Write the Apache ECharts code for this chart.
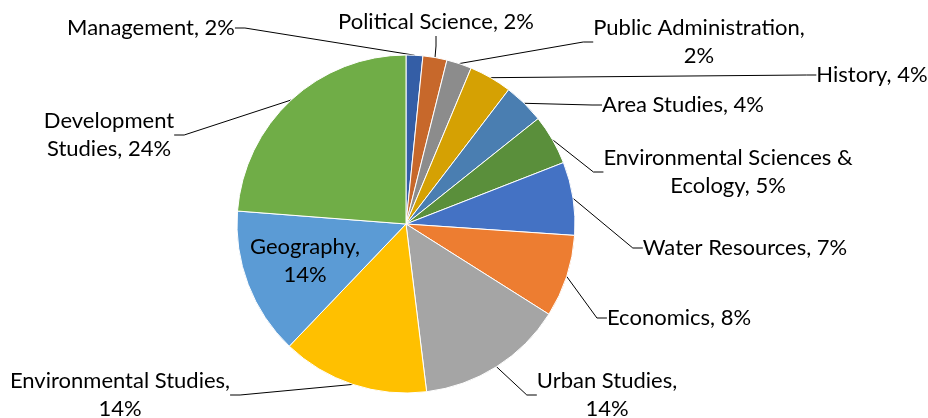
<!DOCTYPE html>
<html>
<head>
<meta charset="utf-8">
<script src="https://cdn.jsdelivr.net/npm/echarts@6/dist/echarts.min.js"></script>
<style>
html,body{margin:0;padding:0;background:#fff;}
#chart{width:928px;height:418px;}
</style>
</head>
<body>
<div id="chart"></div>
<script type="text/javascript">
// research areas, clockwise from 12 o'clock
var names = ['Management','Political Science','Public Administration','History','Area Studies',
	'Environmental Sciences & Ecology','Water Resources','Economics','Urban Studies',
	'Environmental Studies','Geography','Development Studies'];
var shares = [1.6, 2.3, 2.4, 4.1, 3.9, 4.8, 7.0, 7.9, 14.1, 14.1, 14.1, 23.8];
// how the label text is broken
var labelNames = ['Management','Political Science','Public Administration','History','Area Studies',
	'Environmental Sciences &\nEcology','Water Resources','Economics','Urban Studies',
	'Environmental Studies','Geography','Development\nStudies'];
var labelSeps = [', ',', ',',\n',', ',', ',', ',', ',', ',',\n',',\n',',\n',', '];
var colors = ['#345EA6','#C7682B','#8C8C8C','#D5A103','#4A7EB1','#5A8F3B',
	'#4472C4','#ED7D31','#A5A5A5','#FFC000','#5B9BD5','#70AD47'];
// label centres (px)
var labelPos = [[151,28],[436,22],[699,42],[872,75],[683,105],[728,172],
	[745,248],[679,318],[607,395],[120,395],[305,261],[109,135]];

var chart = echarts.init(document.getElementById('chart'));

var data = names.map(function(n, i){
	var item = {name: n, value: shares[i], itemStyle: {color: colors[i]}};
	if (i == 10) {
		item.labelLine = {show: false};
	}
	return item;
});

chart.setOption({
	animation: false,
	series: [{
		type: 'pie',
		center: [406, 224],
		radius: 169,
		startAngle: 90,
		clockwise: true,
		avoidLabelOverlap: false,
		silent: true,
		data: data,
		itemStyle: {borderColor: '#fff', borderWidth: 1},
		label: {
			show: true,
			fontFamily: 'Lato',
			fontSize: 22,
			lineHeight: 28,
			color: '#000',
			align: 'center',
			formatter: function(p){
				return labelNames[p.dataIndex] + labelSeps[p.dataIndex] + Math.round(p.percent) + '%';
			}
		},
		labelLine: {
			show: true,
			length: 10,
			length2: 10,
			lineStyle: {color: '#000', width: 1}
		},
		labelLayout: function(params){
			var p = labelPos[params.dataIndex];
			return {x: p[0], y: p[1], align: 'center', verticalAlign: 'middle'};
		}
	}]
});
</script>
</body>
</html>
